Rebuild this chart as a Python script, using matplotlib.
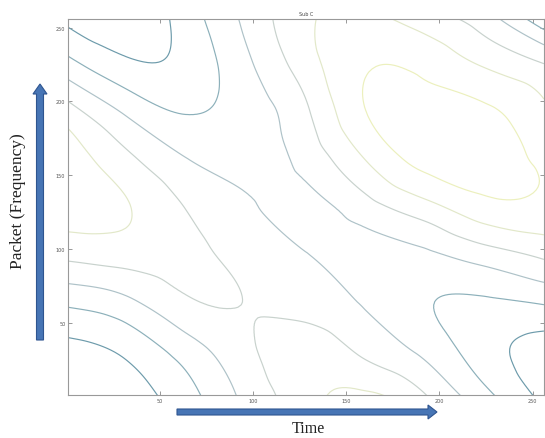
import numpy as np
import matplotlib
matplotlib.use('Agg')
import matplotlib.pyplot as plt
import matplotlib.tri as mtri
from matplotlib.patches import FancyArrow

# sample positions of the sub-band grid (every 32 packets / time steps)
time_nodes = list(range(0, 257, 32))
packet_nodes = list(range(0, 257, 32))

# field values, one row per packet node (bottom to top)
sub_c = np.array([
    [-1.20, 0.30, 1.60, 3.24, 4.62, 5.22, 4.10, 2.33, 0.78],
    [0.60, 1.25, 2.50, 3.77, 4.50, 3.75, 2.72, 1.43, 0.60],
    [2.19, 2.75, 3.85, 3.98, 3.60, 2.90, 2.10, 1.85, 2.12],
    [4.24, 4.45, 4.25, 3.70, 3.05, 2.60, 2.80, 3.50, 4.20],
    [5.50, 5.08, 3.98, 3.20, 2.70, 3.55, 4.60, 5.65, 5.75],
    [5.60, 4.30, 3.07, 2.60, 3.30, 4.97, 6.30, 6.40, 5.85],
    [4.55, 2.90, 1.97, 2.45, 3.80, 5.95, 6.45, 6.20, 5.20],
    [2.45, 1.25, 1.30, 2.75, 4.50, 5.90, 5.75, 4.95, 4.10],
    [0.80, 0.30, 1.45, 3.20, 4.80, 5.25, 4.50, 3.45, 1.20],
])

levels = [1, 2, 3, 4, 5, 6]
level_colors = ['#6d9bab', '#8cb0ba', '#aec2c8', '#c8d2cd', '#e2e8c9', '#ecf0bd']

x_ticks = [50, 100, 150, 200, 250]
y_ticks = [50, 100, 150, 200, 250]

fig = plt.figure(figsize=(5.45, 4.39), dpi=100)
ax = fig.add_axes([0.125, 0.098, 0.873, 0.857])

# let matplotlib's tri refiner smooth the coarse grid for drawing
tx, ty = np.meshgrid(time_nodes, packet_nodes)
tri = mtri.Triangulation(tx.ravel(), ty.ravel())
refiner = mtri.UniformTriRefiner(tri)
interp = mtri.CubicTriInterpolator(tri, sub_c.ravel(), kind='min_E')
tri_fine, z_fine = refiner.refine_field(sub_c.ravel(), triinterpolator=interp, subdiv=4)
ax.tricontour(tri_fine, z_fine, levels=levels, colors=level_colors, linewidths=0.85)

ax.set_xlim(1, 256)
ax.set_ylim(1, 256)
ax.set_xticks(x_ticks)
ax.set_yticks(y_ticks)
ax.tick_params(direction='in', length=3, width=0.6, colors='#888888',
               labelsize=3.5, labelcolor='#555555', top=True, right=True, pad=2)
for s in ax.spines.values():
    s.set_color('#999999')
    s.set_linewidth(0.8)
ax.set_title('Sub C', fontsize=3.5, color='#444444', pad=3)

# overlay in pixel units for the hand drawn arrows and labels
ov = fig.add_axes([0, 0, 1, 1], facecolor='none')
ov.set_xlim(0, 545)
ov.set_ylim(439, 0)
ov.axis('off')

ov.add_patch(FancyArrow(177, 413, 260, 0, width=6, head_width=14,
                        head_length=9, length_includes_head=True,
                        fc='#4775b5', ec='#2f5590', lw=0.8))
ov.add_patch(FancyArrow(40, 341, 0, -256, width=7, head_width=14,
                        head_length=10, length_includes_head=True,
                        fc='#4775b5', ec='#2f5590', lw=0.8))

ov.text(308, 429, 'Time', ha='center', va='center',
        family='Liberation Serif', fontsize=11.5, color='#222222')
ov.text(18, 201, 'Packet (Frequency)', ha='center', va='center', rotation=90,
        family='Liberation Serif', fontsize=12.5, color='#222222')

fig.savefig('out.png', dpi=100)
